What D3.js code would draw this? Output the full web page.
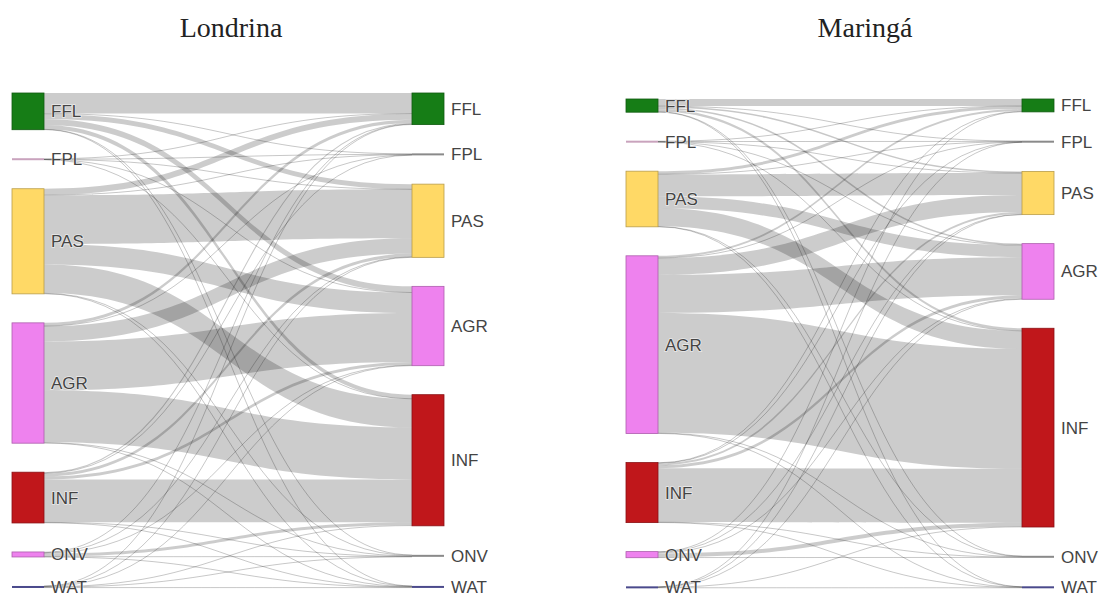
<!DOCTYPE html>
<html>
<head>
<meta charset="utf-8">
<script src="https://cdn.jsdelivr.net/npm/d3@7"></script>
<style>
  body { margin: 0; background: #fff; }
  svg { display: block; }
  .title { font-family: "Liberation Serif", "Times New Roman", serif; font-size: 28px; fill: #222; }
  .lbl { font-family: "Liberation Sans", Arial, sans-serif; font-size: 17px; fill: #444;
         paint-order: stroke; stroke: #fff; stroke-width: 1.5px; stroke-opacity: 0.6; }
</style>
</head>
<body>
<script>
// land cover classes, same order in both columns
const classes = ["FFL", "FPL", "PAS", "AGR", "INF", "ONV", "WAT"];
const classColors = ["#167d16", "#c9a3bd", "#ffd966", "#ee82ee", "#c0171b", "#ee82ee", "#4b4a8c"];

// transition matrices: row = source class, column = target class
const londrinaFlows = [
  [20,   0.5, 5,   6,   4,   0.3, 0.2],
  [0.3,  0.4, 0.1, 0.1, 0.1, 0,   0  ],
  [6,    0.3, 48,  20,  28,  0.5, 0.3],
  [3,    0.2, 15,  48,  51,  0.5, 0.3],
  [1,    0.1, 3,   3,   42,  0.3, 0.4],
  [0.5,  0,   0.5, 0.5, 3,   0.3, 0.1],
  [0.2,  0,   0.2, 0.2, 0.5, 0.1, 0.8]
];
const maringaFlows = [
  [7,    0.3, 1.5, 1.5, 2.5, 0.2, 0.2],
  [0.1,  0.5, 0.1, 0.1, 0.2, 0,   0  ],
  [3,    0.2, 22,  12,  18,  0.3, 0.2],
  [2,    0.2, 17,  38,  120, 0.5, 0.3],
  [0.5,  0.1, 2,   3,   54,  0.3, 0.2],
  [0.3,  0,   0.5, 1,   4,   0.3, 0  ],
  [0,    0.3, 0.1, 0.1, 0.3, 0,   0.5]
];

const titles = ["Londrina", "Maringá"];

const W = 1108, H = 599;
const svg = d3.select("body").append("svg").attr("width", W).attr("height", H);

const panels = [
  { title: titles[0], flows: londrinaFlows, x0: 12, x1: 412, top: 93, bottom: 588, cx: 231 },
  { title: titles[1], flows: maringaFlows, x0: 626, x1: 1022, top: 99, bottom: 588, cx: 865 }
];

const nodeW = 32, pad = 29;

function drawSankey(p) {
  const g = svg.append("g");
  const n = classes.length;

  const nodes = [];
  classes.forEach((c, i) => nodes.push({ name: c, col: 0, idx: i, color: classColors[i], out: [], inn: [] }));
  classes.forEach((c, i) => nodes.push({ name: c, col: 1, idx: i, color: classColors[i], out: [], inn: [] }));

  const links = [];
  p.flows.forEach((row, i) => row.forEach((v, j) => {
    if (v > 0) {
      const l = { source: nodes[i], target: nodes[n + j], value: v };
      links.push(l);
      nodes[i].out.push(l);
      nodes[n + j].inn.push(l);
    }
  }));
  nodes.forEach(d => {
    d.value = Math.max(d3.sum(d.out, l => l.value), d3.sum(d.inn, l => l.value));
  });

  const leftTotal = d3.sum(nodes.slice(0, n), d => d.value);
  const rightTotal = d3.sum(nodes.slice(n), d => d.value);
  const ky = (p.bottom - p.top - (n - 1) * pad) / Math.max(leftTotal, rightTotal);

  const x = d3.scaleOrdinal().domain([0, 1]).range([p.x0, p.x1]);

  [0, 1].forEach(col => {
    let y = p.top;
    nodes.filter(d => d.col === col).forEach(d => {
      d.x0 = x(col);
      d.x1 = d.x0 + nodeW;
      d.y0 = y;
      d.y1 = y + d.value * ky;
      y = d.y1 + pad;
    });
  });

  // link stacking order as in d3-sankey
  nodes.forEach(d => {
    d.out.sort((a, b) => a.target.y0 - b.target.y0);
    d.inn.sort((a, b) => a.source.y0 - b.source.y0);
    let y = d.y0;
    d.out.forEach(l => { l.w = l.value * ky; l.sy = y; y += l.w; });
    y = d.y0;
    d.inn.forEach(l => { l.ty = y; y += l.value * ky; });
  });

  const lg = g.append("g");
  links.forEach(l => {
    const xa = l.source.x1, xb = l.target.x0, xm = (xa + xb) / 2;
    if (l.w < 1.5) {
      const ya = l.sy + l.w / 2, yb = l.ty + l.w / 2;
      lg.append("path")
        .attr("d", `M${xa},${ya}C${xm},${ya} ${xm},${yb} ${xb},${yb}`)
        .attr("fill", "none")
        .attr("stroke", "rgba(0,0,0,0.22)")
        .attr("stroke-width", Math.max(1, l.w));
    } else {
      const path = d3.path();
      path.moveTo(xa, l.sy);
      path.bezierCurveTo(xm, l.sy, xm, l.ty, xb, l.ty);
      path.lineTo(xb, l.ty + l.w);
      path.bezierCurveTo(xm, l.ty + l.w, xm, l.sy + l.w, xa, l.sy + l.w);
      path.closePath();
      lg.append("path")
        .attr("d", path.toString())
        .attr("fill", "rgba(0,0,0,0.2)");
    }
  });

  const ng = g.append("g");
  nodes.forEach(d => {
    const h = d.y1 - d.y0;
    const thin = h < 3;
    ng.append("rect")
      .attr("x", d.x0)
      .attr("y", thin ? (d.y0 + d.y1) / 2 - 1 : d.y0)
      .attr("width", nodeW)
      .attr("height", thin ? 2 : h)
      .attr("fill", thin && d.col === 1 && d.idx !== 6 ? "#8a8a8a" : d.color)
      .attr("stroke", thin ? "none" : d3.color(d.color).darker(0.9))
      .attr("stroke-width", 0.8);

    ng.append("text")
      .attr("class", "lbl")
      .attr("x", d.x1 + 7)
      .attr("y", (d.y0 + d.y1) / 2)
      .attr("dy", "0.35em")
      .text(d.name);
  });

  svg.append("text")
    .attr("class", "title")
    .attr("x", p.cx)
    .attr("y", 37)
    .attr("text-anchor", "middle")
    .text(p.title);
}

panels.forEach(drawSankey);
</script>
</body>
</html>
